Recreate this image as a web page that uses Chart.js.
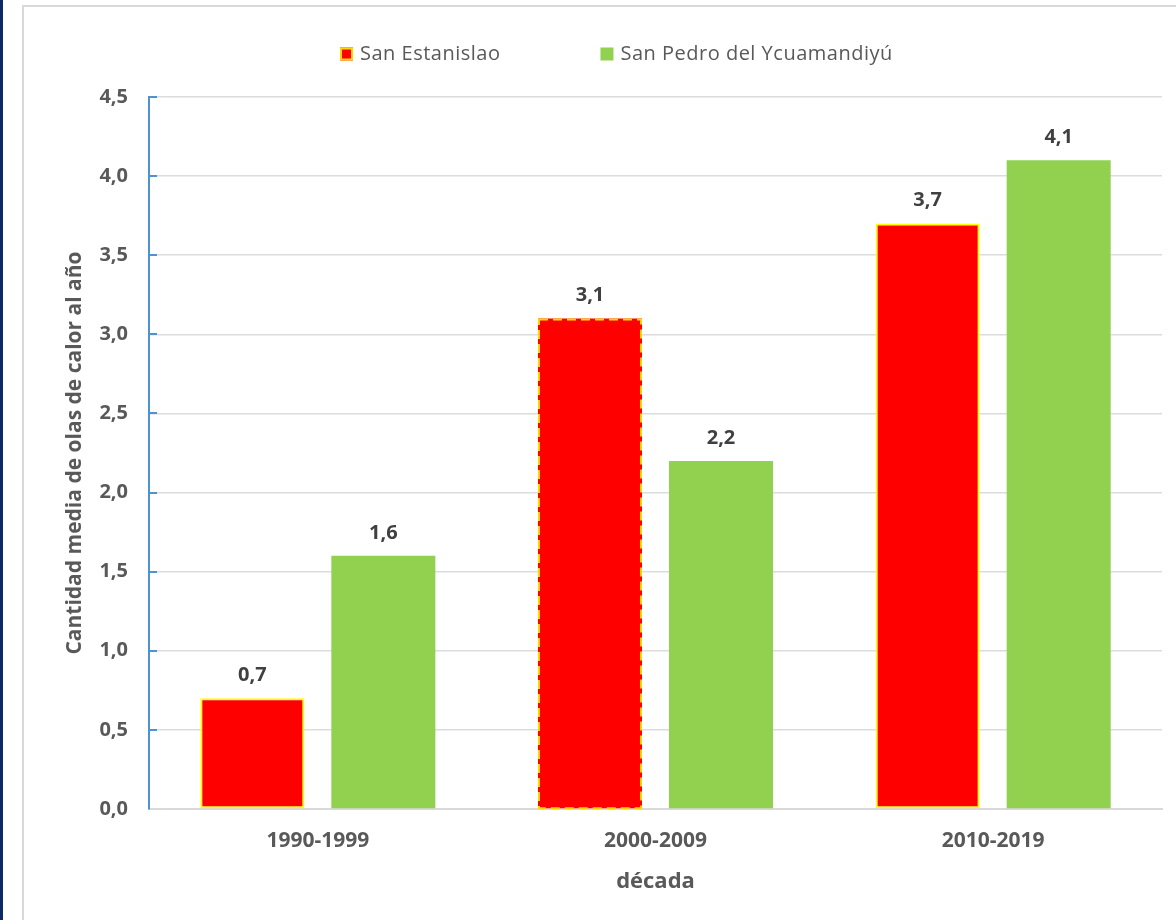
<!DOCTYPE html>
<html>
<head>
<meta charset="utf-8">
<script src="https://cdn.jsdelivr.net/npm/chart.js@4.4.0/dist/chart.umd.min.js"></script>
<style>
  html, body { margin: 0; padding: 0; background: #fff; }
  body { width: 1176px; height: 920px; position: relative; overflow: hidden; }
  #stripe { position: absolute; left: 0; top: 0; width: 3px; height: 920px; background: #0e2a66; }
  #frame { position: absolute; left: 22px; top: 5px; width: 1200px; height: 1000px; border: 2px solid #d9d9d9; box-sizing: border-box; }
  #wrap { position: absolute; left: 0; top: 0; width: 1176px; height: 920px; }
</style>
</head>
<body>
<div id="stripe"></div>
<div id="frame"></div>
<div id="wrap"><canvas id="olasChart"></canvas></div>
<script>
// decades and mean number of heat waves per year
const decades = ["1990-1999", "2000-2009", "2010-2019"];
const sanEstanislao = [0.7, 3.1, 3.7];
const sanPedro = [1.6, 2.2, 4.1];
const yTicks = [0, 0.5, 1, 1.5, 2, 2.5, 3, 3.5, 4, 4.5];

const FONT = "'Open Sans', 'DejaVu Sans', sans-serif";
const fmt = v => v.toFixed(1).replace(".", ",");

// value labels above each bar
const barLabels = {
  id: "barLabels",
  afterDatasetsDraw(chart) {
    const ctx = chart.ctx;
    ctx.save();
    ctx.font = "bold 20px " + FONT;
    ctx.fillStyle = "#404040";
    ctx.textAlign = "center";
    ctx.textBaseline = "middle";
    chart.data.datasets.forEach((ds, i) => {
      chart.getDatasetMeta(i).data.forEach((bar, j) => {
        ctx.fillText(fmt(ds.data[j]), bar.x, bar.y - 23);
      });
    });
    ctx.restore();
  }
};

// dashed yellow outline on the middle red bar
const dashedBorder = {
  id: "dashedBorder",
  afterDatasetsDraw(chart) {
    const bar = chart.getDatasetMeta(0).data[1];
    const ctx = chart.ctx;
    ctx.save();
    ctx.strokeStyle = "#ffd700";
    ctx.lineWidth = 2;
    ctx.setLineDash([9, 5]);
    ctx.strokeRect(bar.x - bar.width / 2 + 1, bar.y + 1, bar.width - 2, bar.base - bar.y - 1);
    ctx.restore();
  }
};

// short tick marks inside the plot on the y axis
const innerTicks = {
  id: "innerTicks",
  afterDraw(chart) {
    const y = chart.scales.y;
    const ctx = chart.ctx;
    ctx.save();
    ctx.strokeStyle = "#4e93d1";
    ctx.lineWidth = 2;
    y.ticks.forEach(t => {
      if (t.value === 0) return;
      const py = Math.round(y.getPixelForValue(t.value));
      ctx.beginPath();
      ctx.moveTo(chart.chartArea.left, py);
      ctx.lineTo(chart.chartArea.left + 8, py);
      ctx.stroke();
    });
    ctx.restore();
  }
};

// legend at the top
const topLegend = {
  id: "topLegend",
  afterDraw(chart) {
    const ctx = chart.ctx;
    const ds = chart.data.datasets;
    const box = 13, gapText = 7, gapItem = 100;
    ctx.save();
    ctx.font = "20px " + FONT;
    ctx.letterSpacing = "0.5px";
    let x = chart.chartArea.left + 191;
    const cy = 54;
    ds.forEach((d, i) => {
      ctx.fillStyle = d.backgroundColor;
      ctx.fillRect(x, cy - box / 2, box, box);
      if (d.legendBorder) {
        ctx.strokeStyle = d.legendBorder;
        ctx.lineWidth = 2;
        ctx.strokeRect(x + 1, cy - box / 2 + 1, box - 2, box - 2);
      }
      ctx.fillStyle = "#595959";
      ctx.textBaseline = "middle";
      ctx.textAlign = "left";
      ctx.fillText(d.label, x + box + gapText, cy);
      x += box + gapText + ctx.measureText(d.label).width + gapItem;
    });
    ctx.restore();
  }
};

const ctx = document.getElementById("olasChart").getContext("2d");
new Chart(ctx, {
  type: "bar",
  data: {
    labels: decades,
    datasets: [
      {
        label: "San Estanislao",
        data: sanEstanislao,
        backgroundColor: "#ff0000",
        borderColor: "#ffff00",
        borderWidth: [2, 0, 2],
        borderSkipped: false,
        legendBorder: "#ffd700",
        barPercentage: 0.794,
        categoryPercentage: 0.776
      },
      {
        label: "San Pedro del Ycuamandiyú",
        data: sanPedro,
        backgroundColor: "#92d050",
        borderWidth: 0,
        barPercentage: 0.794,
        categoryPercentage: 0.776
      }
    ]
  },
  options: {
    responsive: true,
    maintainAspectRatio: false,
    animation: false,
    layout: { padding: { left: 30, right: 14, top: 97, bottom: 0 } },
    plugins: {
      legend: { display: false },
      tooltip: { enabled: false }
    },
    scales: {
      x: {
        grid: { display: false, drawTicks: false },
        border: { color: "#d9d9d9", width: 2 },
        ticks: {
          padding: 19,
          color: "#595959",
          font: { family: FONT, size: 21, weight: "bold" }
        },
        title: {
          display: true,
          text: "década",
          color: "#595959",
          font: { family: FONT, size: 22, weight: "bold" },
          padding: { top: 0, bottom: 25 }
        },
        afterFit: s => { s.height = 111; }
      },
      y: {
        min: 0,
        max: 4.5,
        afterBuildTicks: s => { s.ticks = yTicks.map(v => ({ value: v })); },
        grid: { color: "#dcdcdc", lineWidth: 1.5, drawTicks: false },
        border: { color: "#4e93d1", width: 2 },
        ticks: {
          padding: 21,
          color: "#595959",
          font: { family: FONT, size: 20, weight: "bold" },
          callback: v => fmt(v)
        },
        title: {
          display: true,
          text: "Cantidad media de olas de calor al año",
          color: "#595959",
          font: { family: FONT, size: 21, weight: "bold" },
          padding: { top: 32, bottom: 0 }
        },
        afterFit: s => { s.width = 119; }
      }
    }
  },
  plugins: [barLabels, dashedBorder, innerTicks, topLegend]
});
</script>
</body>
</html>
